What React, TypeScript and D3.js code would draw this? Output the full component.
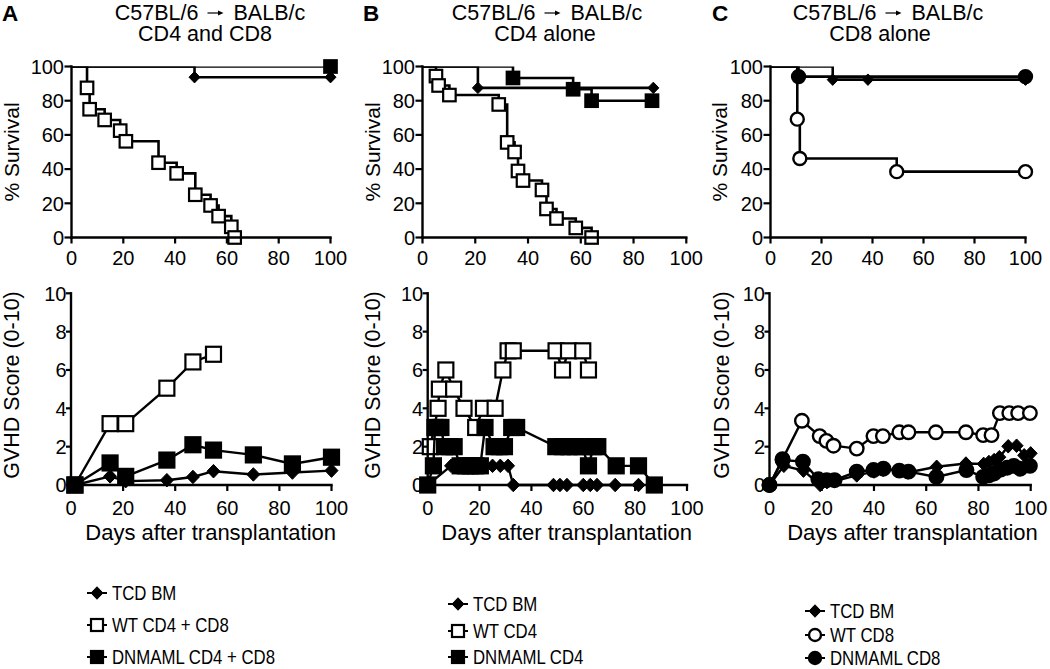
import React from 'react';
import * as d3 from 'd3';

const W = 1050;
const H = 669;
const FONT = "'Liberation Sans', Arial, Helvetica, sans-serif";

// ---------------- ticks & labels ----------------
const pctTicks = [0, 20, 40, 60, 80, 100];
const dayTicks = [0, 20, 40, 60, 80, 100];
const scoreTicks = [0, 2, 4, 6, 8, 10];
const panelLetters = ['A', 'B', 'C'];
const titleLeft = 'C57BL/6';
const titleRight = 'BALB/c';
const titleLine2 = ['CD4 and CD8', 'CD4 alone', 'CD8 alone'];
const survLabel = '% Survival';
const gvhdLabel = 'GVHD Score (0-10)';
const daysLabel = 'Days after transplantation';
const legendA = ['TCD BM', 'WT CD4 + CD8', 'DNMAML CD4 + CD8'];
const legendB = ['TCD BM', 'WT CD4', 'DNMAML CD4'];
const legendC = ['TCD BM', 'WT CD8', 'DNMAML CD8'];

// ---------------- survival data (Kaplan-Meier) ----------------
// Panel A
const aSurvTcdDays = [0, 47.5, 100];
const aSurvTcdPct = [100, 93.75, 93.75];
const aSurvWtDays = [0, 6, 7, 12.8, 18.8, 21, 33.6, 40.6, 47.8, 53.7, 56.8, 61.7, 63];
const aSurvWtPct = [100, 87.5, 75, 68.75, 62.5, 56.25, 43.75, 37.5, 25, 18.75, 12.5, 6.25, 0];
const aSurvDnDays = [0, 100];
const aSurvDnPct = [100, 100];
// Panel B
const bSurvTcdDays = [0, 21, 87.5];
const bSurvTcdPct = [100, 87.5, 87.5];
const bSurvWtDays = [0, 5.1, 6.1, 10.2, 28.9, 32.1, 34.9, 36.2, 38.1, 45.3, 47, 50.8, 58.1, 64.1];
const bSurvWtPct = [100, 94.4, 88.9, 83.3, 77.8, 55.6, 50, 38.9, 33.3, 27.8, 16.7, 11.1, 5.6, 0];
const bSurvDnDays = [0, 34.3, 57.1, 64.1, 87];
const bSurvDnPct = [100, 93.3, 86.7, 80, 80];
// Panel C
const cSurvTcdDays = [0, 24.4, 38.2, 100];
const cSurvTcdPct = [100, 92.3, 92.3, 92.3];
const cSurvWtDays = [0, 10.5, 11.5, 49.5, 100];
const cSurvWtPct = [100, 69.2, 46.2, 38.5, 38.5];
const cSurvDnDays = [0, 11, 100];
const cSurvDnPct = [100, 94.1, 94.1];

// ---------------- GVHD score data ----------------
// Panel A
const aGvhdDays = [1.5, 15, 21, 36.8, 46.8, 54.7, 70, 85, 100];
const aGvhdTcd = [0, 0.45, 0.2, 0.25, 0.42, 0.72, 0.55, 0.65, 0.75];
const aGvhdWtDays = [1.5, 15, 21, 36.8, 46.8, 54.7];
const aGvhdWt = [0, 3.2, 3.2, 5.05, 6.42, 6.82];
const aGvhdDn = [0, 1.15, 0.45, 1.3, 2.1, 1.82, 1.57, 1.1, 1.45];
// Panel B
const bGvhdWtDays = [1, 4, 4.5, 7, 10, 14, 18.5, 21.5, 26, 29, 31, 33, 49.5, 52, 54.3, 59.8, 62];
const bGvhdWt = [2, 4, 5, 6, 5, 4, 3, 4, 4, 6, 7, 7, 7, 6, 7, 7, 6];
const bGvhdTcdDays = [0, 9, 11, 13, 15, 17, 19, 21, 25, 28, 31, 33, 48.5, 51, 53.7, 60, 62.7, 65.3, 72.3, 81.3];
const bGvhdTcd = [0, 1, 1, 1, 1, 1, 1, 1, 1, 1, 1, 0, 0, 0, 0, 0, 0, 0, 0, 0];
const bGvhdDnDays = [0, 2.2, 2.8, 4, 5.1, 6.5, 8.5, 10.2, 12.5, 14.5, 16.5, 18.5, 20.3, 22.1, 25.6, 27.6, 29.6, 32.4, 34.3, 49.4, 52, 54.5, 57, 59.5, 62, 64, 65.6, 72.7, 81.3, 87.4];
const bGvhdDn = [0, 1, 3, 3, 3, 2, 2, 2, 1, 1, 1, 1, 1, 3, 2, 2, 2, 3, 3, 2, 2, 2, 2, 2, 1, 2, 2, 1, 1, 0];
// Panel C
const cGvhdWtDays = [0, 5, 12.4, 19.2, 21.8, 24.5, 33.4, 39.8, 43.4, 49.7, 53.2, 63.7, 75.2, 81.8, 85, 88.2, 91.8, 95.2, 99.7];
const cGvhdWt = [0, 1.35, 3.35, 2.55, 2.3, 2.05, 1.9, 2.55, 2.55, 2.75, 2.75, 2.75, 2.75, 2.6, 2.6, 3.75, 3.75, 3.75, 3.75];
const cGvhdTcdDays = [0, 5.5, 13, 19.4, 22, 25, 33.4, 40, 43.5, 50, 53, 64, 75.2, 82, 84, 86, 88, 91.4, 94.6, 97.5, 100];
const cGvhdTcd = [0, 1.0, 0.75, 0.0, 0.15, 0.2, 0.5, 0.7, 0.8, 0.75, 0.65, 0.95, 1.12, 1.1, 1.2, 1.3, 1.45, 2.02, 2.05, 1.55, 1.65];
const cGvhdDnDays = [0, 5, 12.8, 18.7, 21.9, 24.9, 33.4, 39.8, 43.6, 49.7, 53.2, 63.9, 75.4, 81.8, 84, 86, 88.5, 91, 93.5, 96, 99.7];
const cGvhdDn = [0, 1.3, 1.22, 0.3, 0.25, 0.25, 0.7, 0.78, 0.85, 0.75, 0.7, 0.42, 0.78, 0.42, 0.5, 0.6, 0.8, 0.9, 1.0, 0.85, 1.0];

// ---------------- layout ----------------
const S_TOP = 66.5; // y of 100 %
const S_BOT = 237.5; // y of 0 %
const G_TOP = 293.3; // y of score 10
const G_BOT = 485; // y of score 0

type Shape = 'diamond' | 'square' | 'circle';
interface Series { days: number[]; vals: number[]; shape: Shape; filled: boolean; }

function mk(days: number[], vals: number[], shape: Shape, filled: boolean): Series {
  return { days, vals, shape, filled };
}

const panels = [
  {
    letterX: 2, titleCx: 207.5, line2Cx: 205,
    surv: { x0: 71.5, x1: 330.5 }, gvhd: { x0: 71, x1: 331.5 },
    survLabelX: 11.5, gvhdLabelX: 11.5, daysCx: 210.7,
    survSeries: [mk(aSurvTcdDays, aSurvTcdPct, 'diamond', true), mk(aSurvWtDays, aSurvWtPct, 'square', false), mk(aSurvDnDays, aSurvDnPct, 'square', true)],
    gvhdSeries: [mk(aGvhdDays, aGvhdTcd, 'diamond', true), mk(aGvhdWtDays, aGvhdWt, 'square', false), mk(aGvhdDays, aGvhdDn, 'square', true)],
    legend: legendA, legendShapes: ['diamond', 'square', 'square'] as Shape[], legendX: 97, legendY: [593, 625, 657],
  },
  {
    letterX: 363, titleCx: 544.5, line2Cx: 545,
    surv: { x0: 422.5, x1: 686.3 }, gvhd: { x0: 427.7, x1: 687 },
    survLabelX: 373, gvhdLabelX: 372, daysCx: 566.7,
    survSeries: [mk(bSurvTcdDays, bSurvTcdPct, 'diamond', true), mk(bSurvWtDays, bSurvWtPct, 'square', false), mk(bSurvDnDays, bSurvDnPct, 'square', true)],
    gvhdSeries: [mk(bGvhdWtDays, bGvhdWt, 'square', false), mk(bGvhdTcdDays, bGvhdTcd, 'diamond', true), mk(bGvhdDnDays, bGvhdDn, 'square', true)],
    legend: legendB, legendShapes: ['diamond', 'square', 'square'] as Shape[], legendX: 458, legendY: [604, 631, 657],
  },
  {
    letterX: 712, titleCx: 885.5, line2Cx: 880,
    surv: { x0: 770.5, x1: 1025.5 }, gvhd: { x0: 769.5, x1: 1030.7 },
    survLabelX: 720, gvhdLabelX: 721, daysCx: 912.5,
    survSeries: [mk(cSurvTcdDays, cSurvTcdPct, 'diamond', true), mk(cSurvWtDays, cSurvWtPct, 'circle', false), mk(cSurvDnDays, cSurvDnPct, 'circle', true)],
    gvhdSeries: [mk(cGvhdWtDays, cGvhdWt, 'circle', false), mk(cGvhdTcdDays, cGvhdTcd, 'diamond', true), mk(cGvhdDnDays, cGvhdDn, 'circle', true)],
    legend: legendC, legendShapes: ['diamond', 'circle', 'circle'] as Shape[], legendX: 815, legendY: [611, 635, 658],
  },
];

function Marker({ shape, filled, x, y, size }: { shape: Shape; filled: boolean; x: number; y: number; size: number }) {
  const fill = filled ? '#000' : '#fff';
  if (shape === 'square') {
    return <rect x={x - size / 2} y={y - size / 2} width={size} height={size} fill={fill} stroke="#000" strokeWidth={2.2} />;
  }
  if (shape === 'circle') {
    return <circle cx={x} cy={y} r={size / 2} fill={fill} stroke="#000" strokeWidth={2.4} />;
  }
  const hw = size * 0.5;
  const hh = size * 0.52;
  return <path d={`M${x},${y - hh}L${x + hw},${y}L${x},${y + hh}L${x - hw},${y}Z`} fill="#000" stroke="#000" strokeWidth={1} />;
}

function markerSize(shape: Shape, kind: 'surv' | 'gvhd' | 'legend') {
  if (kind === 'surv') return shape === 'square' ? 12.5 : shape === 'circle' ? 13 : 11;
  if (kind === 'gvhd') return shape === 'square' ? 15 : shape === 'circle' ? 13.5 : 13;
  return 12;
}

function SurvivalPlot({ idx, x0, x1, series, labelX }: { idx: number; x0: number; x1: number; series: Series[]; labelX: number }) {
  const x = d3.scaleLinear().domain([0, 100]).range([x0, x1]);
  const y = d3.scaleLinear().domain([0, 100]).range([S_BOT, S_TOP]);
  const clipId = `sclip${idx}`;
  return (
    <g>
      <defs>
        <clipPath id={clipId}>
          <rect x={x0 - 20} y={S_TOP} width={x1 - x0 + 40} height={S_BOT - S_TOP + 20} />
        </clipPath>
      </defs>
      <g clipPath={`url(#${clipId})`}>
        {series.map((s, si) => {
          const pts: [number, number][] = s.days.map((d, i) => [x(d), y(s.vals[i])]);
          const p = d3.line<[number, number]>().curve(d3.curveStepAfter)(pts) || '';
          return <path key={si} d={p} fill="none" stroke="#000" strokeWidth={2.6} />;
        })}
      </g>
      {series.map((s, si) => (
        <g key={si}>
          {s.days.slice(1).map((d, i) => (
            <Marker key={i} shape={s.shape} filled={s.filled} x={x(d)} y={y(s.vals[i + 1])} size={markerSize(s.shape, 'surv')} />
          ))}
        </g>
      ))}
      <line x1={x0} y1={S_TOP} x2={x0} y2={S_BOT} stroke="#000" strokeWidth={2.4} strokeLinecap="square" />
      <line x1={x0} y1={S_BOT} x2={x1} y2={S_BOT} stroke="#000" strokeWidth={2.4} strokeLinecap="square" />
      {pctTicks.map((t) => (
        <g key={'y' + t}>
          <line x1={x0 - 7} x2={x0} y1={y(t)} y2={y(t)} stroke="#000" strokeWidth={2.2} />
          <text x={x0 - 7.5} y={y(t)} dy="0.36em" textAnchor="end" fontSize={20} fontFamily={FONT}>{t}</text>
        </g>
      ))}
      {dayTicks.map((t) => (
        <g key={'x' + t}>
          <line x1={x(t)} x2={x(t)} y1={S_BOT} y2={S_BOT + 6} stroke="#000" strokeWidth={2.2} />
          <text x={x(t)} y={S_BOT + 27.5} textAnchor="middle" fontSize={20} fontFamily={FONT}>{t}</text>
        </g>
      ))}
      <text transform={`translate(${labelX},152) rotate(-90)`} dy="0.35em" textAnchor="middle" fontSize={21} fontFamily={FONT}>{survLabel}</text>
    </g>
  );
}

function GvhdPlot({ x0, x1, series, labelX, daysCx }: { x0: number; x1: number; series: Series[]; labelX: number; daysCx: number }) {
  const x = d3.scaleLinear().domain([0, 100]).range([x0, x1]);
  const y = d3.scaleLinear().domain([0, 10]).range([G_BOT, G_TOP]);
  const gen = d3.line<[number, number]>();
  return (
    <g>
      {series.map((s, si) => {
        const pts: [number, number][] = s.days.map((d, i) => [x(d), y(s.vals[i])]);
        return (
          <g key={si}>
            <path d={gen(pts) || ''} fill="none" stroke="#000" strokeWidth={2.4} />
            {pts.map((p, i) => (
              <Marker key={i} shape={s.shape} filled={s.filled} x={p[0]} y={p[1]} size={markerSize(s.shape, 'gvhd')} />
            ))}
          </g>
        );
      })}
      <line x1={x0} y1={G_TOP} x2={x0} y2={G_BOT} stroke="#000" strokeWidth={2.4} strokeLinecap="square" />
      <line x1={x0} y1={G_BOT} x2={x1} y2={G_BOT} stroke="#000" strokeWidth={2.4} strokeLinecap="square" />
      {scoreTicks.map((t) => (
        <g key={'y' + t}>
          <line x1={x0 - 5} x2={x0} y1={y(t)} y2={y(t)} stroke="#000" strokeWidth={2.2} />
          <text x={x0 - 4.5} y={y(t)} dy="0.36em" textAnchor="end" fontSize={20} fontFamily={FONT}>{t}</text>
        </g>
      ))}
      {dayTicks.map((t) => (
        <g key={'x' + t}>
          <line x1={x(t)} x2={x(t)} y1={G_BOT} y2={G_BOT + 6} stroke="#000" strokeWidth={2.2} />
          <text x={x(t)} y={G_BOT + 30} textAnchor="middle" fontSize={20} fontFamily={FONT}>{t}</text>
        </g>
      ))}
      <text transform={`translate(${labelX},385) rotate(-90)`} dy="0.35em" textAnchor="middle" fontSize={21.5} fontFamily={FONT}>{gvhdLabel}</text>
      <text x={daysCx} y={540} textAnchor="middle" fontSize={22} fontFamily={FONT}>{daysLabel}</text>
    </g>
  );
}

function Title({ cx, line2, line2Cx }: { cx: number; line2: string; line2Cx: number }) {
  const ay = 13;
  return (
    <g fontFamily={FONT}>
      <text x={cx - 9} y={19.5} textAnchor="end" fontSize={21.5}>{titleLeft}</text>
      <line x1={cx} x2={cx + 12} y1={ay} y2={ay} stroke="#000" strokeWidth={1.2} />
      <path d={`M${cx + 16},${ay}L${cx + 10.5},${ay - 2.6}L${cx + 10.5},${ay + 2.6}Z`} fill="#000" />
      <text x={cx + 26} y={19.5} textAnchor="start" fontSize={21.5}>{titleRight}</text>
      <text x={line2Cx} y={40.5} textAnchor="middle" fontSize={21.5}>{line2}</text>
    </g>
  );
}

function Legend({ labels, shapes, x, ys }: { labels: string[]; shapes: Shape[]; x: number; ys: number[] }) {
  const filled = [true, false, true];
  return (
    <g>
      {labels.map((lab, i) => (
        <g key={i}>
          <line x1={x - 10} x2={x + 10} y1={ys[i]} y2={ys[i]} stroke="#000" strokeWidth={2} />
          <Marker shape={shapes[i]} filled={filled[i]} x={x} y={ys[i]} size={markerSize(shapes[i], 'legend')} />
          <text transform={`translate(${x + 15},${ys[i]}) scale(0.84,1)`} dy="0.36em" fontSize={20} fontFamily={FONT}>{lab}</text>
        </g>
      ))}
    </g>
  );
}

export default function App() {
  return (
    <svg width={W} height={H} style={{ position: 'absolute', left: 0, top: 0, background: '#fff' }} xmlns="http://www.w3.org/2000/svg">
      <rect x={0} y={0} width={W} height={H} fill="#fff" />
      {panels.map((p, i) => (
        <g key={i}>
          <text x={p.letterX} y={20.5} fontSize={22.5} fontWeight="bold" fontFamily={FONT}>{panelLetters[i]}</text>
          <Title cx={p.titleCx} line2={titleLine2[i]} line2Cx={p.line2Cx} />
          <SurvivalPlot idx={i} x0={p.surv.x0} x1={p.surv.x1} series={p.survSeries} labelX={p.survLabelX} />
          <GvhdPlot x0={p.gvhd.x0} x1={p.gvhd.x1} series={p.gvhdSeries} labelX={p.gvhdLabelX} daysCx={p.daysCx} />
          <Legend labels={p.legend} shapes={p.legendShapes} x={p.legendX} ys={p.legendY} />
        </g>
      ))}
    </svg>
  );
}
